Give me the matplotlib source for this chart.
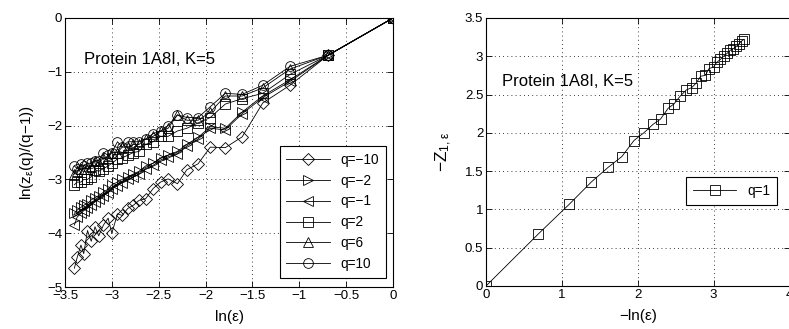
import matplotlib
matplotlib.use("Agg")
import matplotlib.pyplot as plt

plt.rcParams['font.family'] = ['Liberation Sans', 'DejaVu Sans']
plt.rcParams['mathtext.fontset'] = 'custom'
plt.rcParams['mathtext.rm'] = 'Liberation Sans'
plt.rcParams['mathtext.it'] = 'Liberation Sans:italic'
plt.rcParams['mathtext.default'] = 'regular'

# box sizes: ln(eps) for eps = 1, 1/2, ..., 1/30
ln_eps = [0.0, -0.69, -1.10, -1.39, -1.61, -1.79, -1.95, -2.08, -2.20, -2.30,
          -2.40, -2.48, -2.56, -2.64, -2.71, -2.77, -2.83, -2.89, -2.94, -3.00,
          -3.04, -3.09, -3.14, -3.18, -3.22, -3.26, -3.30, -3.33, -3.37, -3.40]

# ln(Z_eps(q))/(q-1) for each q (left panel)
q_labels = ['q=\u221210', 'q=\u22122', 'q=\u22121', 'q=2', 'q=6', 'q=10']
q_markers = ['D', '>', '<', 's', '^', 'o']
y_qm10 = [0, -0.69, -1.25, -1.58, -2.21, -2.41, -2.40, -2.71, -2.82, -3.08,
          -2.99, -3.05, -3.17, -3.36, -3.39, -3.48, -3.54, -3.67, -3.64, -4.00,
          -3.72, -3.85, -4.05, -3.88, -4.15, -3.95, -4.38, -4.22, -4.45, -4.65]
y_qm2 = [0, -0.69, -1.15, -1.45, -1.75, -2.05, -2.02, -2.22, -2.35, -2.48,
         -2.55, -2.60, -2.70, -2.75, -2.85, -2.90, -2.95, -3.00, -3.05, -3.10,
         -3.18, -3.24, -3.30, -3.34, -3.38, -3.45, -3.48, -3.52, -3.57, -3.63]
y_qm1 = [0, -0.69, -1.18, -1.48, -1.78, -2.08, -2.05, -2.25, -2.38, -2.52,
         -2.58, -2.64, -2.74, -2.80, -2.90, -2.95, -3.00, -3.06, -3.12, -3.17,
         -3.25, -3.30, -3.37, -3.42, -3.47, -3.54, -3.58, -3.63, -3.70, -3.85]
y_q2 = [0, -0.69, -1.05, -1.40, -1.50, -1.60, -1.85, -1.95, -2.05, -2.10,
        -2.20, -2.20, -2.30, -2.35, -2.48, -2.50, -2.55, -2.60, -2.62, -2.70,
        -2.75, -2.80, -2.85, -2.82, -2.95, -3.00, -3.00, -3.05, -3.05, -3.10]
y_q6 = [0, -0.69, -0.95, -1.30, -1.45, -1.45, -1.75, -1.90, -1.90, -1.80,
        -2.05, -2.10, -2.20, -2.25, -2.35, -2.35, -2.40, -2.40, -2.50, -2.50,
        -2.60, -2.60, -2.70, -2.65, -2.75, -2.80, -2.80, -2.80, -2.85, -2.90]
y_q10 = [0, -0.69, -0.90, -1.25, -1.42, -1.40, -1.65, -1.85, -1.85, -1.80,
         -2.00, -2.10, -2.15, -2.25, -2.30, -2.30, -2.30, -2.40, -2.30, -2.50,
         -2.55, -2.50, -2.65, -2.65, -2.70, -2.70, -2.75, -2.72, -2.80, -2.75]
series = [y_qm10, y_qm2, y_qm1, y_q2, y_q6, y_q10]

# -Z_{1,eps} (right panel)
z1 = [0, 0.68, 1.07, 1.36, 1.55, 1.69, 1.90, 2.00, 2.11, 2.18,
      2.32, 2.38, 2.48, 2.56, 2.59, 2.65, 2.74, 2.75, 2.84, 2.86,
      2.92, 2.96, 3.01, 3.04, 3.08, 3.10, 3.13, 3.16, 3.20, 3.22]

fig = plt.figure(figsize=(7.89, 3.29), dpi=100)
ax1 = fig.add_axes([65/789, 1-287/329, 328/789, 269/329])
ax2 = fig.add_axes([486/789, 1-286/329, 303.5/789, 268/329])

grid_kw = dict(color='black', linestyle=(0, (1, 4)), linewidth=0.6)

for y, m, lab in zip(series, q_markers, q_labels):
    ms = 6 if m == 'D' else 7
    ax1.plot(ln_eps, y, marker=m, color='black', linewidth=0.6, markersize=ms,
             markerfacecolor='none', markeredgewidth=0.6, label=lab)
ax1.set_xlim(-3.5, 0)
ax1.set_ylim(-5, 0)
ax1.set_xticks([-3.5, -3, -2.5, -2, -1.5, -1, -0.5, 0])
ax1.set_xticklabels(['\u22123.5', '\u22123', '\u22122.5', '\u22122', '\u22121.5', '\u22121', '\u22120.5', '0'])
ax1.set_yticks([-5, -4, -3, -2, -1, 0])
ax1.set_yticklabels(['\u22125', '\u22124', '\u22123', '\u22122', '\u22121', '0'])
ax1.grid(True, **grid_kw)
ax1.set_xlabel('ln(ε)', fontsize=11, labelpad=6)
ax1.set_ylabel('ln(z$_ε$(q)/(q\u22121))', fontsize=11, labelpad=8)
ax1.text(-3.30, -0.85, 'Protein 1A8I, K=5', fontsize=12)
leg1 = ax1.legend(loc='upper right', bbox_to_anchor=(0.979, 0.524), fontsize=9.8,
                  handlelength=3.2, fancybox=False, edgecolor='black',
                  framealpha=1, borderpad=0.5, labelspacing=0.5, borderaxespad=0)
leg1.get_frame().set_linewidth(0.8)

ax2.plot([-v for v in ln_eps], z1, marker='s', color='black', linewidth=0.6,
         markersize=6.5, markerfacecolor='none', markeredgewidth=0.6, label='q=1')
ax2.set_xlim(0, 4)
ax2.set_ylim(0, 3.5)
ax2.set_xticks([0, 1, 2, 3, 4])
ax2.set_yticks([0, 0.5, 1, 1.5, 2, 2.5, 3, 3.5])
ax2.set_yticklabels(['0', '0.5', '1', '1.5', '2', '2.5', '3', '3.5'])
ax2.grid(True, **grid_kw)
ax2.set_xlabel('\u2212ln(ε)', fontsize=11, labelpad=6)
ax2.set_ylabel('\u2212Z$_{1,ε}$', fontsize=12.5, labelpad=8)
ax2.text(0.21, 2.61, 'Protein 1A8I, K=5', fontsize=12)
leg2 = ax2.legend(loc='upper right', bbox_to_anchor=(0.959, 0.407), fontsize=9.8,
                  handlelength=3.2, fancybox=False, edgecolor='black',
                  framealpha=1, borderpad=0.5, borderaxespad=0)
leg2.get_frame().set_linewidth(0.8)

for ax in (ax1, ax2):
    ax.tick_params(direction='in', top=True, right=True, labelsize=9.5,
                   length=4, width=0.6, pad=2)
    for s in ax.spines.values():
        s.set_linewidth(0.8)

fig.savefig('out.png', dpi=100)
